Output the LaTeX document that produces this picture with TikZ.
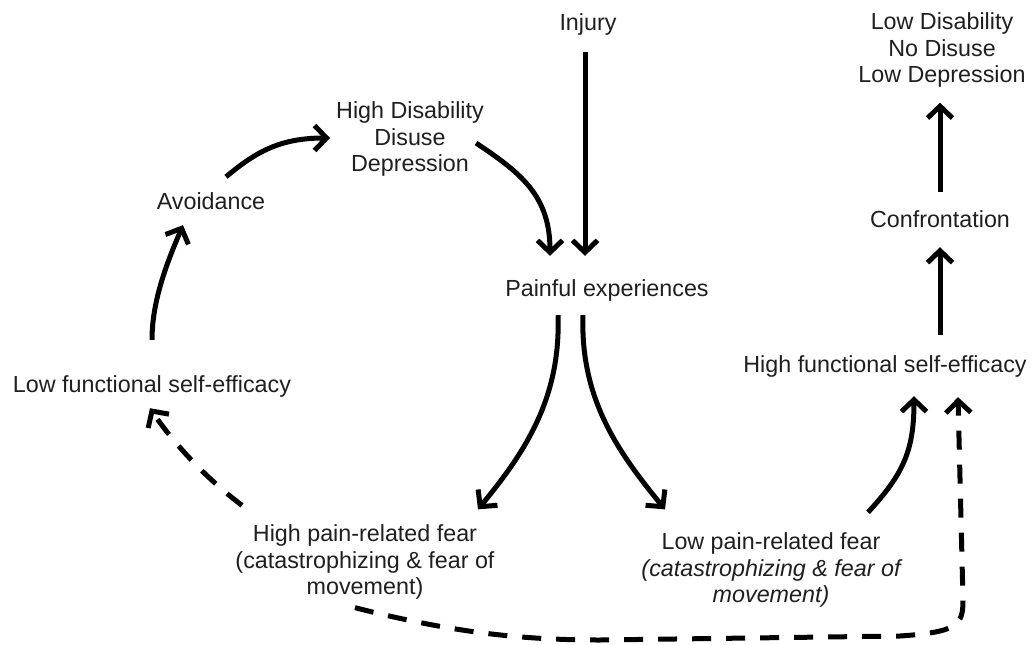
\documentclass[tikz,border=0pt]{standalone}
\usepackage{fontspec}
\setmainfont{Liberation Sans}
\usetikzlibrary{arrows.meta}
\begin{document}
\begin{tikzpicture}[x=1pt,y=-1pt,
  lbl/.style={font=\fontsize{23.3}{26.6}\selectfont, align=center, inner sep=0pt, text=black!88},
  one/.style={lbl, text height=17pt, text depth=5pt},
  arr/.style={line width=5pt, -{Straight Barb[length=12pt,width=25pt]}},
  darr/.style={arr, dash pattern=on 19pt off 15pt}]
\fill[white] (0,0) rectangle (1036,645);
\useasboundingbox (0,0) rectangle (1036,645);

\node[one] (inj) at (588,24) {Injury};
\node[lbl] (ld) at (942,50) {Low Disability\\No Disuse\\Low Depression};
\node[lbl] (hd) at (410,139) {High Disability\\Disuse\\Depression};
\node[one] (av) at (211,203) {Avoidance};
\node[one] (conf) at (940,221) {Confrontation};
\node[one] (pe) at (607,290) {Painful experiences};
\node[one] (lf) at (152,386) {Low functional self-efficacy};
\node[one] (hf) at (885,366) {High functional self-efficacy};
\node[lbl] (hpf) at (365,562) {High pain-related fear\\(catastrophizing \& fear of\\movement)};
\node[lbl] (lpf) at (771,570) {Low pain-related fear\\\itshape(catastrophizing \& fear of\\\itshape movement)};

% solid arrows
\draw[arr] ([xshift=-3pt,yshift=-17pt]inj.south) -- ([xshift=-22pt,yshift=23pt]pe.north);
\draw[arr] ([xshift=-8pt,yshift=-4pt]hd.east) .. controls +(45,30) and +(0,-60) .. ([xshift=-57pt,yshift=23pt]pe.north);
\draw[arr] ([xshift=15pt,yshift=15pt]av.north) .. controls +(30,-25) and +(-50,0) .. ([xshift=-6pt,yshift=1pt]hd.west);
\draw[arr] ([yshift=35pt]lf.north) .. controls +(0,-40) and +(-15,35) .. ([xshift=-28pt,yshift=-11pt]av.south);
\draw[arr] ([xshift=-49pt,yshift=-14pt]pe.south) .. controls +(3,85) and +(45,-55) .. ([xshift=113pt,yshift=15pt]hpf.north);
\draw[arr] ([xshift=-24pt,yshift=-14pt]pe.south) .. controls +(-3,85) and +(-45,-55) .. ([xshift=-106pt,yshift=23pt]lpf.north);
\draw[arr] ([xshift=97pt,yshift=20pt]lpf.north) .. controls +(35,-38) and +(0,55) .. ([xshift=29pt,yshift=-19pt]hf.south);
\draw[arr] ([xshift=55pt,yshift=20pt]hf.north) -- ([yshift=-15pt]conf.south);
\draw[arr] ([yshift=18pt]conf.north) -- ([xshift=-2pt,yshift=-15pt]ld.south);

% dashed arrows
\draw[darr] ([xshift=-123pt,yshift=19pt]hpf.north) .. controls +(-40,-30) and +(20,30) .. ([xshift=-2pt,yshift=-11pt]lf.south);
\draw[darr] ([xshift=-10pt,yshift=-8pt]hpf.south) .. controls (450,632) and (520,640) .. (600,640) -- (900,636) .. controls (958,632) and (963,625) .. (963,600) -- ([xshift=73pt,yshift=-20pt]hf.south);
\end{tikzpicture}
\end{document}
